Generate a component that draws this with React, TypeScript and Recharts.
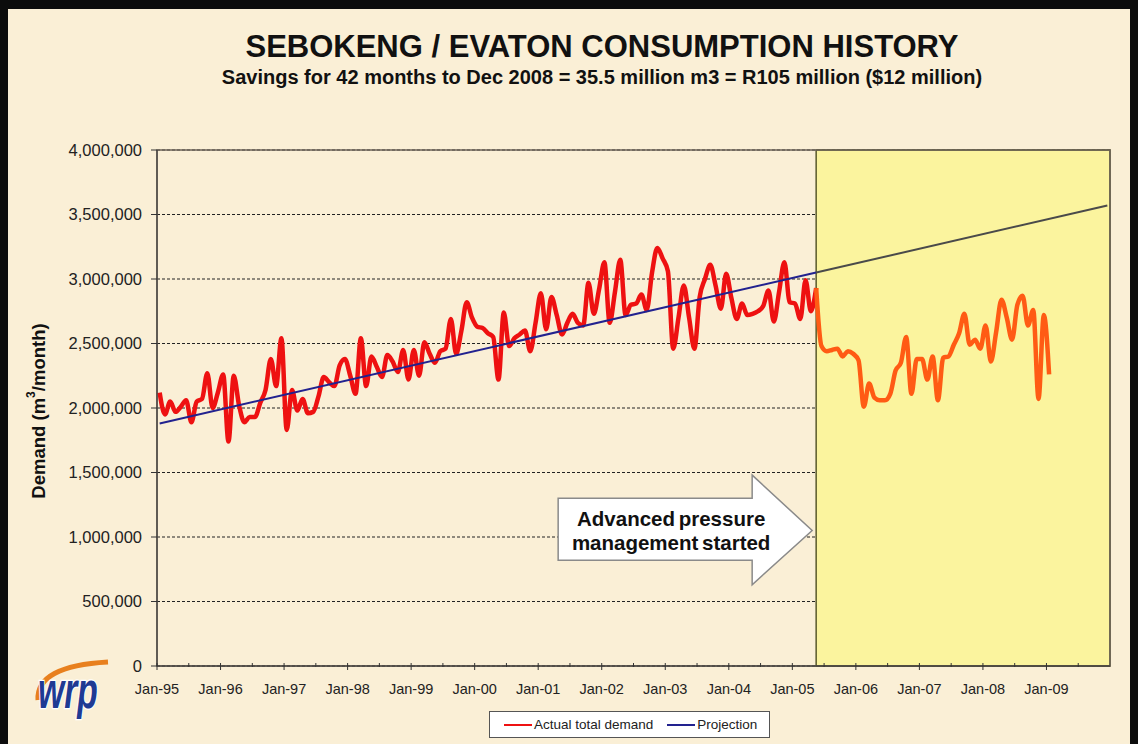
import React from 'react';
import { LineChart, Line, XAxis, YAxis, CartesianGrid, ReferenceArea, Legend, Label } from 'recharts';

const FONT = '"Liberation Sans", Arial, sans-serif';

const TICK_LABELS = [
  'Jan-95', 'Jan-96', 'Jan-97', 'Jan-98', 'Jan-99', 'Jan-00', 'Jan-01', 'Jan-02',
  'Jan-03', 'Jan-04', 'Jan-05', 'Jan-06', 'Jan-07', 'Jan-08', 'Jan-09',
];

// monthly demand (m3/month), Jan-95 .. Jan-09
const ACTUAL_DEMAND = [
  2120000, 1950000, 2050000, 1970000, 2010000, 2060000, 1890000, 2050000, 2070000, 2270000, 2000000, 2120000,
  2260000, 1740000, 2250000, 2020000, 1890000, 1930000, 1930000, 2040000, 2140000, 2380000, 2170000, 2540000,
  1830000, 2140000, 1980000, 2070000, 1960000, 1970000, 2090000, 2240000, 2200000, 2170000, 2330000, 2380000,
  2250000, 2110000, 2540000, 2170000, 2400000, 2320000, 2240000, 2410000, 2360000, 2280000, 2450000, 2220000,
  2450000, 2250000, 2510000, 2420000, 2350000, 2440000, 2460000, 2690000, 2420000, 2600000, 2820000, 2700000,
  2630000, 2620000, 2580000, 2550000, 2220000, 2740000, 2480000, 2540000, 2570000, 2600000, 2440000, 2660000,
  2890000, 2610000, 2860000, 2720000, 2570000, 2660000, 2730000, 2660000, 2640000, 2970000, 2730000, 2920000,
  3130000, 2660000, 2900000, 3150000, 2720000, 2800000, 2810000, 2880000, 2760000, 3050000, 3240000, 3160000,
  3060000, 2460000, 2700000, 2950000, 2700000, 2460000, 2860000, 3000000, 3110000, 2950000, 2770000, 3040000,
  2850000, 2690000, 2810000, 2720000, 2730000, 2750000, 2790000, 2910000, 2670000, 2900000, 3130000, 2820000,
  2810000, 2690000, 2990000, 2750000, 2930000, 2480000, 2440000, 2450000, 2460000, 2400000, 2440000, 2420000,
  2370000, 2010000, 2190000, 2080000, 2060000, 2060000, 2110000, 2290000, 2350000, 2550000, 2110000, 2380000,
  2380000, 2220000, 2400000, 2060000, 2390000, 2400000, 2490000, 2580000, 2730000, 2490000, 2530000, 2460000,
  2640000, 2360000, 2590000, 2840000, 2700000, 2530000, 2800000, 2870000, 2640000, 2760000, 2070000, 2720000,
  2260000,
];

// projection trend: month index -> value
const PROJECTION_MONTHS = [0, 124, 179];
const PROJECTION_VALUES = [1880000, 3050000, 3570000];

// month index where advanced pressure management starts
const PRESSURE_START = 124;
const LAST_MONTH = 179;

const Y_TICKS = [0, 500000, 1000000, 1500000, 2000000, 2500000, 3000000, 3500000, 4000000];

const rows = Array.from({ length: LAST_MONTH + 1 }, (_, i) => {
  const v = i < ACTUAL_DEMAND.length ? ACTUAL_DEMAND[i] : null;
  const pi = PROJECTION_MONTHS.indexOf(i);
  const p = pi >= 0 ? PROJECTION_VALUES[pi] : null;
  return {
    t: i + 0.5,
    actual: i <= PRESSURE_START ? v : null,
    actualAfter: i >= PRESSURE_START ? v : null,
    projection: i <= PRESSURE_START ? p : null,
    projectionAfter: i >= PRESSURE_START ? p : null,
  };
});

const xTicks = Array.from({ length: 30 }, (_, k) => k * 6);

const MonthTick = ({ x, y, payload }: any) => {
  const v = payload.value;
  const major = v % 12 === 0;
  return (
    <g>
      <line x1={x} x2={x} y1={y - 3} y2={y + (major ? 4 : 1)} stroke="#333" />
      {major && (
        <text x={x} y={y + 28} textAnchor="middle" fontSize={14.5} fontFamily={FONT} fill="#222">
          {TICK_LABELS[v / 12]}
        </text>
      )}
    </g>
  );
};

const PressureArrow = ({ viewBox }: any) => {
  const { x, y, height } = viewBox;
  const yOf = (v: number) => y + height * (1 - v / 4000000);
  const tipX = x - 4;
  const headX = x - 64;
  const bodyX = x - 258;
  const pts = [
    [bodyX, yOf(1300000)], [headX, yOf(1300000)], [headX, yOf(1480000)], [tipX, yOf(1050000)],
    [headX, yOf(630000)], [headX, yOf(820000)], [bodyX, yOf(820000)],
  ].map((p) => p.join(',')).join(' ');
  const cx = (bodyX + headX) / 2 + 16;
  return (
    <g>
      <polygon points={pts} fill="#fff" stroke="#8a8a8a" strokeWidth={1.5} />
      <text x={cx} y={yOf(1050000) - 5} textAnchor="middle" fontSize={20.5} fontWeight="bold" fontFamily={FONT} fill="#111" wordSpacing={-2}>
        Advanced pressure
      </text>
      <text x={cx} y={yOf(1050000) + 19} textAnchor="middle" fontSize={20.5} fontWeight="bold" fontFamily={FONT} fill="#111" wordSpacing={-2}>
        management started
      </text>
    </g>
  );
};

const LegendBox = ({ payload }: any) => (
  <div style={{ display: 'flex', alignItems: 'center', gap: 14, padding: '5px 12px 5px 14px', background: '#fff', border: '1px solid #555', fontFamily: FONT, fontSize: 13.5, color: '#222' }}>
    {(payload || []).filter((p: any) => p.type !== 'none' && !String(p.dataKey).endsWith('After')).map((p: any) => (
      <span key={p.value} style={{ display: 'flex', alignItems: 'center' }}>
        <svg width={28} height={6}><line x1={0} x2={28} y1={3} y2={3} stroke={p.color} strokeWidth={2} /></svg>
        <span style={{ marginLeft: 2 }}>{p.value}</span>
      </span>
    ))}
  </div>
);

const YLabel = ({ viewBox }: any) => {
  const cx = viewBox.x + 1;
  const cy = viewBox.y + viewBox.height / 2 + 3;
  return (
    <text x={cx} y={cy} transform={`rotate(-90, ${cx}, ${cy})`} textAnchor="middle" dominantBaseline="central" fontSize={18.5} fontWeight="bold" fontFamily={FONT} fill="#111">
      Demand (m<tspan dy={-7} fontSize={12}>3</tspan><tspan dy={7}>/month)</tspan>
    </text>
  );
};

const Logo = () => (
  <svg width={96} height={86} style={{ position: 'absolute', left: 26, top: 646 }}>
    <path d="M12 54 Q10 20 82 16" stroke="#e8801e" strokeWidth={5} fill="none" />
    <g transform="translate(12 62) scale(0.8 1.25)">
      <text x={0} y={0} fontSize={42} fontWeight="bold" fontStyle="italic" fontFamily={FONT} fill="#1f3a93" stroke="#fff" strokeWidth={2} paintOrder="stroke">wrp</text>
    </g>
  </svg>
);

export default function App() {
  return (
    <div style={{ position: 'absolute', left: 0, top: 0, width: 1138, height: 744, background: '#faefd6', overflow: 'hidden' }}>
      <div style={{ position: 'absolute', top: 30, left: 0, width: 1204, textAlign: 'center', fontFamily: FONT, fontWeight: 'bold', fontSize: 31, lineHeight: '34px', color: '#111' }}>
        SEBOKENG / EVATON CONSUMPTION HISTORY
      </div>
      <div style={{ position: 'absolute', top: 66, left: 0, width: 1204, textAlign: 'center', fontFamily: FONT, fontWeight: 'bold', fontSize: 20, lineHeight: '22px', color: '#111' }}>
        Savings for 42 months to Dec 2008 = 35.5 million m3 = R105 million ($12 million)
      </div>
      <LineChart width={1138} height={744} data={rows} margin={{ top: 150, right: 28, bottom: 38, left: 37 }}>
        <ReferenceArea x1={PRESSURE_START + 0.5} x2={180} y1={0} y2={4000000} fill="#fbf49e" fillOpacity={1} stroke="#5a5a2a" strokeWidth={1.5}>
          <Label content={(props: any) => <PressureArrow viewBox={props.viewBox} />} />
        </ReferenceArea>
        <CartesianGrid vertical={false} strokeDasharray="3 2" stroke="#222" />
        <ReferenceArea x1={0} x2={180} y1={0} y2={4000000} fill="none" stroke="#6b6257" strokeWidth={1.5} />
        <XAxis
          type="number"
          dataKey="t"
          domain={[0, 180]}
          ticks={xTicks}
          interval={0}
          height={40}
          tickSize={0}
          tickMargin={0}
          tickLine={false}
          tick={<MonthTick />}
          axisLine={{ stroke: '#333' }}
        />
        <YAxis
          domain={[0, 4000000]}
          ticks={Y_TICKS}
          width={120}
          tickSize={6}
          tickMargin={9}
          tickLine={{ stroke: '#333' }}
          axisLine={{ stroke: '#333' }}
          tick={{ fontSize: 16.5, fontFamily: FONT, fill: '#222' }}
          tickFormatter={(v: number) => v.toLocaleString('en-US')}
          label={<Label content={(props: any) => <YLabel viewBox={props.viewBox} />} />}
        />
        <Line dataKey="actual" name="Actual total demand" type="monotone" stroke="#ee1111" strokeWidth={4.5} dot={false} isAnimationActive={false} />
        <Line dataKey="actualAfter" type="monotone" stroke="#ff5b14" strokeWidth={4.5} dot={false} legendType="none" isAnimationActive={false} />
        <Line dataKey="projection" name="Projection" type="linear" stroke="#22228f" strokeWidth={2} dot={false} connectNulls isAnimationActive={false} />
        <Line dataKey="projectionAfter" type="linear" stroke="#4a4a4a" strokeWidth={2} dot={false} connectNulls legendType="none" isAnimationActive={false} />
        <Legend layout="horizontal" verticalAlign="middle" align="center" content={<LegendBox />} wrapperStyle={{ left: 489, top: 711, width: 'auto' }} />
      </LineChart>
      <Logo />
      <div style={{ position: 'absolute', left: 0, top: 0, width: 8, height: 744, background: '#0c0c0c' }} />
      <div style={{ position: 'absolute', left: 0, top: 0, width: 1138, height: 9, background: '#0c0c0c' }} />
      <div style={{ position: 'absolute', right: 0, top: 0, width: 8, height: 744, background: '#0c0c0c' }} />
    </div>
  );
}
